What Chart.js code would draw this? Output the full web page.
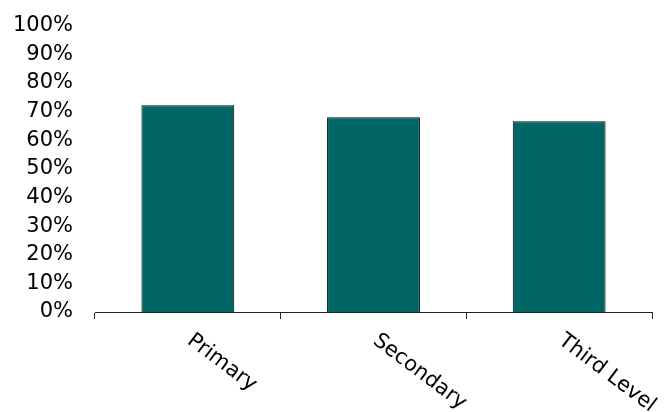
<!DOCTYPE html>
<html>
<head>
<meta charset="utf-8">
<script src="https://cdn.jsdelivr.net/npm/chart.js@4"></script>
<style>
  html, body { margin: 0; padding: 0; background: #fff; }
  canvas { display: block; }
</style>
</head>
<body>
<canvas id="chart" width="665" height="412"></canvas>
<script>
/* ===== Data ===== */
const levels = ["Primary", "Secondary", "Third Level"];
const shares = [72.2, 68.0, 66.6];
const yTicks = [0, 10, 20, 30, 40, 50, 60, 70, 80, 90, 100];

const FONT = "DejaVu Sans, Verdana, sans-serif";
const TEAL = "#006666";
const LABEL_ANGLE = 37; // degrees, clockwise

/* ===== Slanted category labels under the axis ===== */
const slantLabels = {
  id: "slantLabels",
  afterDraw(chart) {
    const { ctx } = chart;
    const xs = chart.scales.x;
    ctx.save();
    ctx.font = `21px ${FONT}`;
    ctx.fillStyle = "#000";
    ctx.textAlign = "left";
    ctx.textBaseline = "top";
    levels.forEach((name, i) => {
      const x = xs.getPixelForValue(i);
      ctx.save();
      ctx.translate(x + 8, xs.top + 18);
      ctx.rotate((LABEL_ANGLE * Math.PI) / 180);
      ctx.fillText(name, 0, 0);
      ctx.restore();
    });
    ctx.restore();
  },
};

/* ===== Chart ===== */
new Chart(document.getElementById("chart"), {
  type: "bar",
  data: {
    labels: levels,
    datasets: [
      {
        data: shares,
        backgroundColor: TEAL,
        borderColor: "#000",
        borderWidth: 1,
        barPercentage: 1,
        categoryPercentage: 0.5,
      },
    ],
  },
  options: {
    responsive: false,
    animation: false,
    devicePixelRatio: 1,
    layout: { padding: { top: 25.5, right: 13, left: 0, bottom: 0 } },
    plugins: {
      legend: { display: false },
      tooltip: { enabled: false },
    },
    scales: {
      x: {
        offset: true,
        grid: {
          display: true,
          offset: true,
          drawOnChartArea: false,
          drawTicks: true,
          tickLength: 7,
          color: "#222",
          lineWidth: 1,
        },
        border: { display: true, color: "#222", width: 1 },
        ticks: { display: false },
        afterFit: (s) => {
          s.height = 100;
          s.paddingLeft = 0;
          s.paddingRight = 0;
        },
      },
      y: {
        min: 0,
        max: 100,
        grid: { display: false, drawTicks: false },
        border: { display: false },
        afterBuildTicks: (s) => { s.ticks = yTicks.map((v) => ({ value: v })); },
        ticks: {
          autoSkip: false,
          padding: 22,
          color: "#000",
          font: { family: FONT, size: 21 },
          callback: (v) => `${v}%`,
        },
        afterFit: (s) => {
          s.width = 95;
          s.paddingTop = 0;
          s.paddingBottom = 0;
        },
      },
    },
  },
  plugins: [slantLabels],
});
</script>
</body>
</html>
